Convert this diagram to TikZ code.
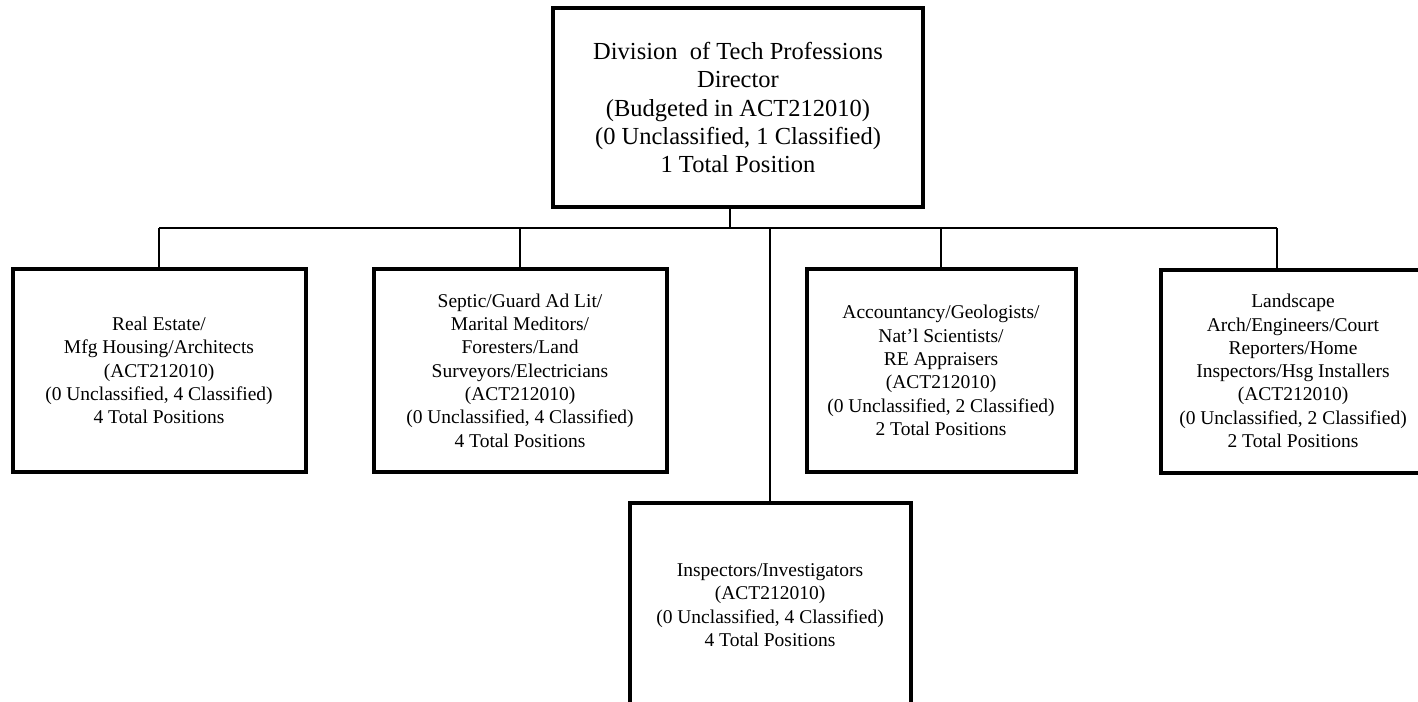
\documentclass[tikz,border=0pt]{standalone}
\usepackage{fontspec}
\setmainfont{Liberation Serif}
\tikzset{
  unitbox/.style={draw=black, line width=4pt, fill=white, align=center,
    inner sep=0pt, font=\fontsize{19.5}{23.3}\selectfont},
  headbox/.style={unitbox, font=\fontsize{24.5}{28.3}\selectfont},
  link/.style={draw=black, line width=2pt}
}
\begin{document}
\begin{tikzpicture}[x=1pt, y=-1pt]
\useasboundingbox (0,0) rectangle (1418,701);
\clip (0,0) rectangle (1418,701);
\fill[white] (0,0) rectangle (1418,701);

% bus and junction points
\coordinate (stem) at (730,228);
\coordinate (busL) at (159,228);
\coordinate (busR) at (1277,228);

% director
\node[headbox, minimum width=370pt, minimum height=199pt] (top) at (738,107.5)
  {Division~ of Tech Professions\\Director\\(Budgeted in ACT212010)\\(0 Unclassified, 1 Classified)\\1 Total Position};

% units
\node[unitbox, minimum width=293pt, minimum height=203pt] (re) at (159,370.5)
  {Real Estate/\\Mfg Housing/Architects\\(ACT212010)\\(0 Unclassified, 4 Classified)\\4 Total Positions};
\node[unitbox, minimum width=293pt, minimum height=203pt] (sep) at (520,370.5)
  {Septic/Guard Ad Lit/\\Marital Meditors/\\Foresters/Land\\Surveyors/Electricians\\(ACT212010)\\(0 Unclassified, 4 Classified)\\4 Total Positions};
\node[unitbox, minimum width=269pt, minimum height=203pt] (acc) at (941,370.5)
  {Accountancy/Geologists/\\Nat’l Scientists/\\RE Appraisers\\(ACT212010)\\(0 Unclassified, 2 Classified)\\2 Total Positions};
\node[unitbox, minimum width=264pt, minimum height=203pt] (land) at (1293,371)
  {Landscape\\Arch/Engineers/Court\\Reporters/Home\\Inspectors/Hsg Installers\\(ACT212010)\\(0 Unclassified, 2 Classified)\\2 Total Positions};
\node[unitbox, minimum width=281pt, minimum height=204pt] (insp) at (770,605)
  {Inspectors/Investigators\\(ACT212010)\\(0 Unclassified, 4 Classified)\\4 Total Positions};

% connectors
\draw[link] (top.south -| stem) -- (stem);
\draw[link] (busL) -- (busR);
\draw[link] (busL) -- (re.north);
\draw[link] (sep.north |- busL) -- (sep.north);
\draw[link] (acc.north |- busL) -- (acc.north);
\draw[link] (busR) -- (busR |- land.north);
\draw[link] (insp.north |- busL) -- (insp.north);
\end{tikzpicture}
\end{document}
